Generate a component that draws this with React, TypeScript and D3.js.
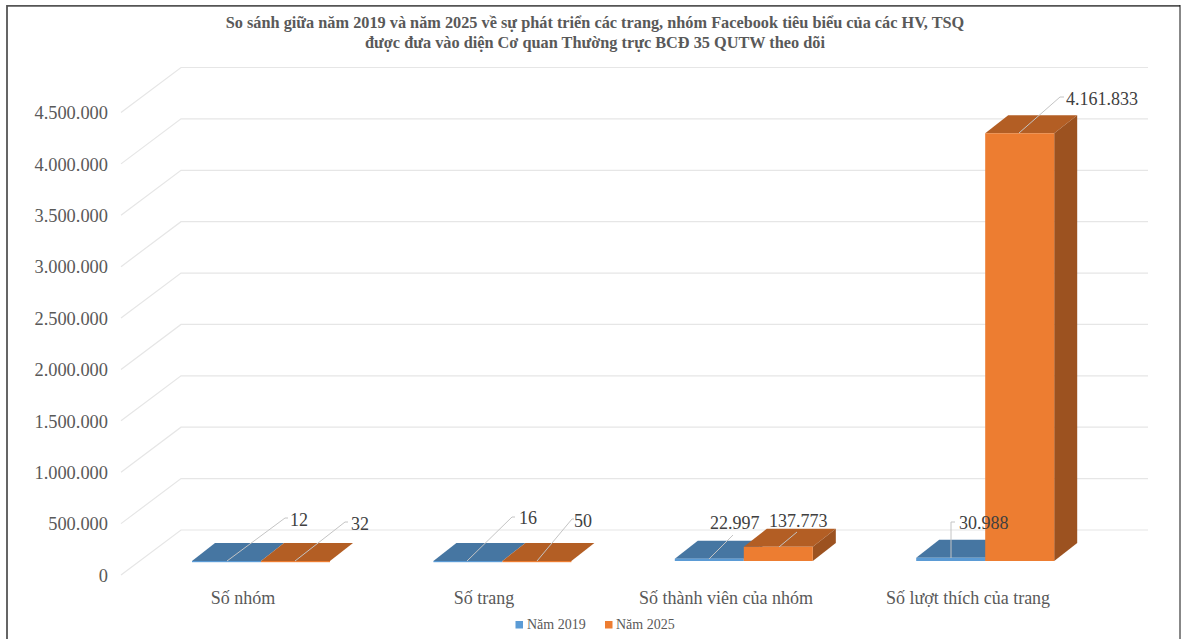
import React from "react";
import * as d3 from "d3";

const title1 = "So sánh giữa năm 2019 và năm 2025 về sự phát triển các trang, nhóm Facebook tiêu biểu của các HV, TSQ";
const title2 = "được đưa vào diện Cơ quan Thường trực BCĐ 35 QUTW theo dõi";
const categories = ["Số nhóm", "Số trang", "Số thành viên của nhóm", "Số lượt thích của trang"];
const values2019 = [12, 16, 22997, 30988];
const values2025 = [32, 50, 137773, 4161833];
const labels2019 = ["12", "16", "22.997", "30.988"];
const labels2025 = ["32", "50", "137.773", "4.161.833"];
const tickValues = [0, 500000, 1000000, 1500000, 2000000, 2500000, 3000000, 3500000, 4000000, 4500000];
const tickLabels = ["0", "500.000", "1.000.000", "1.500.000", "2.000.000", "2.500.000", "3.000.000", "3.500.000", "4.000.000", "4.500.000"];
const seriesNames = ["Năm 2019", "Năm 2025"];

const W = 1181, H = 639;
const FONT = "'Liberation Serif', 'Times New Roman', serif";
const y = d3.scaleLinear().domain([0, 4500000]).range([575, 112.5]);
const x = d3.scaleLinear().domain([0, 4]).range([192 - 70.6, 192 - 70.6 + 4 * 241.4]);
const DX = 23, DY = 18, FLOOR = 561, BAR = 69;
const barH = (v: number) => (y(0) - y(v));

const cols = [
  { front: "#5b9bd5", top: "#4676a2", side: "#41719c" },
  { front: "#ed7d31", top: "#b35e24", side: "#9c5220" },
];

function Bar({ x0, v, c }: { x0: number; v: number; c: typeof cols[0] }) {
  const t = FLOOR - barH(v);
  const p = (a: number[][]) => a.map((q) => q.join(",")).join(" ");
  return (
    <g>
      <polygon points={p([[x0, t], [x0 + DX, t - DY], [x0 + BAR + DX, t - DY], [x0 + BAR, t]])} fill={c.top} />
      <polygon points={p([[x0 + BAR, t], [x0 + BAR + DX, t - DY], [x0 + BAR + DX, FLOOR - DY], [x0 + BAR, FLOOR]])} fill={c.side} />
      <rect x={x0} y={t} width={BAR} height={Math.max(barH(v), 1.2)} fill={c.front} />
    </g>
  );
}

const leader = "#c4c4c4";
const leaders2019 = [
  [[227, 561], [285, 518], [288, 518]],
  [[467, 561], [512, 517], [515, 517]],
  [[709, 559], [733, 535]],
  [[951, 558], [951, 522], [955, 522]],
];
const leaders2025 = [
  [[295, 561], [345, 522], [348, 522]],
  [[537, 561], [572, 519], [574, 519]],
  [[779, 547], [797, 532]],
  [[1019, 133], [1060, 97], [1064, 97]],
];
const labelPos2019 = [[290, 526], [519, 524], [710, 529], [959, 529]];
const labelPos2025 = [[351, 530], [574, 527], [769, 527], [1066, 105]];

export default function App() {
  const line = d3.line();
  const order = [0, 1, 2, 3];
  return (
    <svg width={W} height={H} style={{ position: "absolute", left: 0, top: 0, background: "#fff" }} fontFamily={FONT}>
      <path d="M7,639 V5.8 H1180" fill="none" stroke="#555" strokeWidth={1.8} />
      <path d="M1180,5 V639" fill="none" stroke="#111" strokeWidth={1} />
      <text x={595} y={28} textAnchor="middle" fontSize={16.3} fontWeight={700} fill="#595959">{title1}</text>
      <text x={595} y={47.5} textAnchor="middle" fontSize={16.3} fontWeight={700} fill="#595959">{title2}</text>
      {tickValues.map((t, i) => (
        <g key={t}>
          <polyline points={`121,${y(t)} 181,${y(t) - 45} 1148,${y(t) - 45}`} fill="none" stroke="#e6e6e6" strokeWidth={1.2} />
          <text x={108} y={y(t) + 6.7} textAnchor="end" fontSize={18.4} fill="#595959">{tickLabels[i]}</text>
        </g>
      ))}
      {order.map((i) => {
        const x0 = x(i) + 70.6;
        return (
          <g key={i}>
            <Bar x0={x0} v={values2019[i]} c={cols[0]} />
            <Bar x0={x0 + BAR} v={values2025[i]} c={cols[1]} />
          </g>
        );
      })}
      {leaders2019.map((l, i) => <path key={i} d={line(l as [number, number][]) ?? ""} fill="none" stroke={leader} strokeWidth={1} />)}
      {leaders2025.map((l, i) => <path key={i} d={line(l as [number, number][]) ?? ""} fill="none" stroke={leader} strokeWidth={1} />)}
      {labels2019.map((s, i) => <text key={i} x={labelPos2019[i][0]} y={labelPos2019[i][1]} fontSize={18} fill="#404040">{s}</text>)}
      {labels2025.map((s, i) => <text key={i} x={labelPos2025[i][0]} y={labelPos2025[i][1]} fontSize={18} fill="#404040">{s}</text>)}
      {categories.map((c, i) => (
        <text key={c} x={[243, 484, 726, 968][i]} y={604} textAnchor="middle" fontSize={18} fill="#595959">{c}</text>
      ))}
      <rect x={515.5} y={621} width={7.5} height={7.5} fill={cols[0].front} />
      <text x={527} y={629} fontSize={14} fill="#595959">{seriesNames[0]}</text>
      <rect x={605} y={621} width={7.5} height={7.5} fill={cols[1].front} />
      <text x={616} y={629} fontSize={14} fill="#595959">{seriesNames[1]}</text>
    </svg>
  );
}
